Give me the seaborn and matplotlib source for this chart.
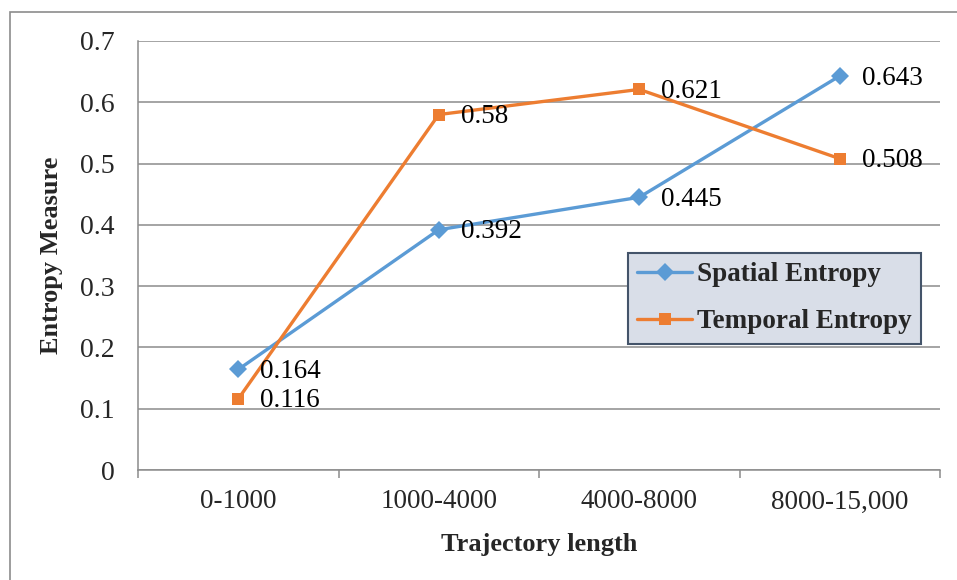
import matplotlib
matplotlib.use("Agg")
import matplotlib.pyplot as plt
import seaborn as sns
import pandas as pd
from matplotlib.patches import Rectangle

categories = ["0-1000", "1000-4000", "4000-8000", "8000-15,000"]
spatial = [0.164, 0.392, 0.445, 0.643]
temporal = [0.116, 0.58, 0.621, 0.508]
series_names = ["Spatial Entropy", "Temporal Entropy"]
y_ticks = [0, 0.1, 0.2, 0.3, 0.4, 0.5, 0.6, 0.7]
y_tick_labels = ["0", "0.1", "0.2", "0.3", "0.4", "0.5", "0.6", "0.7"]

df = pd.DataFrame({
    "Trajectory length": categories * 2,
    "Entropy Measure": spatial + temporal,
    "Series": [series_names[0]] * 4 + [series_names[1]] * 4,
})

sns.set_style("white")
plt.rcParams["font.family"] = ["Liberation Serif", "DejaVu Serif"]

fig = plt.figure(figsize=(9.57, 5.8), dpi=100)
ax = fig.add_axes([138 / 957, 110 / 580, (940 - 138) / 957, (470 - 41) / 580])

palette = {series_names[0]: "#5B9BD5", series_names[1]: "#ED7D31"}
markers = {series_names[0]: "D", series_names[1]: "s"}
sns.lineplot(data=df, x="Trajectory length", y="Entropy Measure", hue="Series",
             style="Series", markers=markers, dashes=False, palette=palette,
             linewidth=2.4, markersize=9, markeredgewidth=0, ax=ax, sort=False)

# data labels
for vals in (spatial, temporal):
    for i, v in enumerate(vals):
        ax.annotate(f"{v:g}", (i, v), xytext=(16, -1.5), textcoords="offset points",
                    ha="left", va="center", fontsize=19.5, color="black")

ax.set_xlim(-0.5, 3.5)
ax.set_ylim(0, 0.7)
ax.set_yticks(y_ticks)
ax.set_yticklabels(y_tick_labels)
ax.yaxis.grid(True, color="#8C8C8C", linewidth=1.1)
ax.xaxis.grid(False)
ax.set_axisbelow(True)
for s in ["top", "right"]:
    ax.spines[s].set_visible(False)
for s in ["left", "bottom"]:
    ax.spines[s].set_color("#8C8C8C")
    ax.spines[s].set_linewidth(1.1)

ax.set_xticks([0, 1, 2, 3])
ax.set_xticklabels(categories)
ax.set_xticks([-0.5, 0.5, 1.5, 2.5, 3.5], minor=True)
ax.tick_params(axis="x", which="major", length=0, pad=14, labelsize=19.5)
ax.tick_params(axis="x", which="minor", length=6, color="#8C8C8C", width=1.1, bottom=True)
ax.tick_params(axis="y", length=0, pad=17, labelsize=20)

ax.set_xlabel("Trajectory length", fontsize=19, fontweight="bold", labelpad=13)
ax.set_ylabel("Entropy Measure", fontsize=19, fontweight="bold", labelpad=12)

leg = ax.legend(loc="upper left", bbox_to_anchor=((628 - 138) / 802, (470 - 253) / 429),
                frameon=True, fancybox=False, prop={"weight": "bold", "size": 19.5},
                handlelength=2.0, handletextpad=0.2, borderpad=0.35, labelspacing=0.8,
                borderaxespad=0)
leg.get_frame().set_facecolor("#D9DEE8")
leg.get_frame().set_edgecolor("#44546A")
leg.get_frame().set_linewidth(1.5)
leg.get_frame().set_alpha(1)

fig.patches.append(Rectangle((10 / 957, -20 / 580), 970 / 957, 588 / 580, transform=fig.transFigure,
                             fill=False, edgecolor="#8C8C8C", linewidth=1.2, clip_on=False))

fig.savefig("out.png", dpi=100)
